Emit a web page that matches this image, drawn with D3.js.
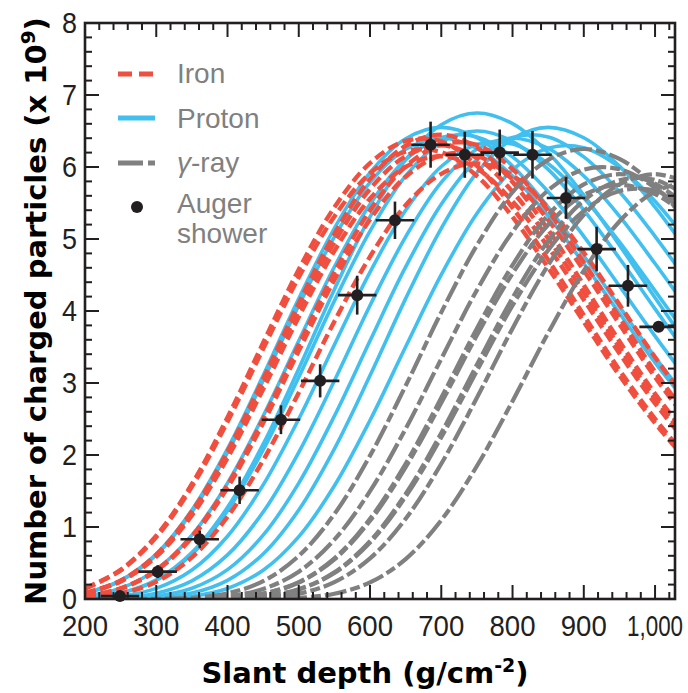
<!DOCTYPE html>
<html lang="en">
  <head>
    <meta charset="utf-8">
    <title>Shower profiles</title>
    <script src="https://d3js.org/d3.v7.min.js"></script>
    <style>
      body { margin: 0; background: #fff; }
      .tick-label { font-family: 'Liberation Sans', Arial, sans-serif; font-size: 30px; fill: #231f20; }
      .axis-title { font-family: 'DejaVu Sans', sans-serif; font-weight: bold; font-size: 29px; fill: #000; }
      .legend-text { font-family: 'Liberation Sans', Arial, sans-serif; font-size: 28px; fill: #808080; }
    </style>
  </head>
  <body>
    <svg id="chart"></svg>
    <script>
    // depth grid shared by all simulated profiles (g/cm2)
    const depthGrid = [200, 250, 300, 350, 400, 450, 500, 550, 600, 650, 700, 750, 800, 850, 900, 950, 1000, 1050]

    // number of charged particles (x 10^9)
    const ironProfiles = [
      [0.148, 0.405, 0.879, 1.597, 2.522, 3.558, 4.576, 5.44, 6.054, 6.362, 6.355, 6.016, 5.434, 4.71, 3.942, 3.181, 2.502, 1.907],
      [0.144, 0.396, 0.859, 1.56, 2.463, 3.475, 4.469, 5.313, 5.913, 6.213, 6.206, 5.875, 5.306, 4.6, 3.85, 3.106, 2.444, 1.863],
      [0.081, 0.255, 0.617, 1.218, 2.054, 3.056, 4.109, 5.07, 5.831, 6.295, 6.45, 6.269, 5.792, 5.128, 4.36, 3.58, 2.851, 2.212],
      [0.079, 0.249, 0.602, 1.189, 2.007, 2.985, 4.013, 4.952, 5.695, 6.149, 6.3, 6.124, 5.657, 5.009, 4.259, 3.497, 2.785, 2.161],
      [0.077, 0.244, 0.588, 1.161, 1.959, 2.914, 3.918, 4.834, 5.56, 6.002, 6.15, 5.978, 5.523, 4.889, 4.157, 3.413, 2.718, 2.109],
      [0.039, 0.147, 0.402, 0.872, 1.585, 2.502, 3.531, 4.54, 5.398, 6.007, 6.312, 6.306, 5.969, 5.391, 4.674, 3.912, 3.156, 2.483],
      [0.038, 0.143, 0.392, 0.852, 1.548, 2.443, 3.447, 4.433, 5.27, 5.865, 6.163, 6.157, 5.828, 5.264, 4.563, 3.819, 3.081, 2.424],
      [0.016, 0.076, 0.24, 0.578, 1.142, 1.927, 2.866, 3.854, 4.755, 5.469, 5.905, 6.05, 5.881, 5.433, 4.81, 4.09, 3.358, 2.674]
    ]

    const protonProfiles = [
      [0.08, 0.253, 0.612, 1.208, 2.038, 3.032, 4.077, 5.03, 5.786, 6.246, 6.4, 6.259, 5.875, 5.318, 4.659, 3.968, 3.283, 2.662],
      [0.082, 0.259, 0.626, 1.237, 2.086, 3.103, 4.172, 5.148, 5.921, 6.393, 6.55, 6.406, 6.013, 5.443, 4.768, 4.061, 3.36, 2.725],
      [0.039, 0.149, 0.408, 0.886, 1.61, 2.541, 3.586, 4.612, 5.483, 6.102, 6.411, 6.418, 6.14, 5.657, 5.037, 4.347, 3.651, 2.986],
      [0.018, 0.084, 0.267, 0.645, 1.274, 2.15, 3.198, 4.3, 5.306, 6.102, 6.588, 6.75, 6.602, 6.197, 5.609, 4.914, 4.185, 3.463],
      [0.018, 0.081, 0.257, 0.621, 1.227, 2.07, 3.08, 4.141, 5.109, 5.876, 6.344, 6.5, 6.357, 5.967, 5.402, 4.732, 4.03, 3.335],
      [0.006, 0.039, 0.147, 0.402, 0.872, 1.585, 2.502, 3.531, 4.54, 5.398, 6.007, 6.312, 6.318, 6.045, 5.569, 4.959, 4.28, 3.594],
      [0.002, 0.017, 0.08, 0.253, 0.612, 1.208, 2.038, 3.032, 4.077, 5.03, 5.786, 6.246, 6.4, 6.259, 5.875, 5.318, 4.659, 3.968],
      [0.001, 0.006, 0.039, 0.149, 0.408, 0.886, 1.61, 2.541, 3.586, 4.612, 5.483, 6.102, 6.411, 6.418, 6.14, 5.657, 5.037, 4.347],
      [0, 0.002, 0.018, 0.082, 0.259, 0.626, 1.237, 2.086, 3.103, 4.172, 5.148, 5.921, 6.393, 6.55, 6.406, 6.013, 5.443, 4.768],
      [0, 0.001, 0.006, 0.038, 0.146, 0.399, 0.866, 1.572, 2.482, 3.503, 4.505, 5.355, 5.96, 6.262, 6.269, 5.998, 5.525, 4.92]
    ]

    const gammaProfiles = [
      [0, 0, 0.002, 0.017, 0.078, 0.248, 0.598, 1.18, 1.991, 2.961, 3.981, 4.913, 5.65, 6.1, 6.25, 6.113, 5.738, 5.194],
      [0, 0, 0, 0.006, 0.037, 0.139, 0.38, 0.824, 1.498, 2.364, 3.336, 4.29, 5.1, 5.676, 5.964, 5.97, 5.712, 5.262],
      [0, 0, 0, 0.002, 0.016, 0.074, 0.234, 0.564, 1.114, 1.879, 2.795, 3.758, 4.637, 5.334, 5.758, 5.9, 5.77, 5.416],
      [0, 0, 0, 0.002, 0.016, 0.072, 0.228, 0.55, 1.086, 1.831, 2.724, 3.663, 4.52, 5.198, 5.612, 5.75, 5.624, 5.279],
      [0, 0, 0, 0, 0.006, 0.036, 0.135, 0.37, 0.804, 1.46, 2.305, 3.253, 4.183, 4.973, 5.534, 5.815, 5.821, 5.569],
      [0, 0, 0, 0, 0.006, 0.035, 0.132, 0.361, 0.783, 1.423, 2.246, 3.169, 4.076, 4.845, 5.392, 5.666, 5.672, 5.426],
      [0, 0, 0, 0, 0.002, 0.016, 0.074, 0.234, 0.564, 1.114, 1.879, 2.795, 3.758, 4.637, 5.334, 5.758, 5.9, 5.77],
      [0, 0, 0, 0, 0, 0.002, 0.016, 0.073, 0.23, 0.554, 1.095, 1.847, 2.748, 3.695, 4.559, 5.243, 5.661, 5.8]
    ]

    // Auger shower measurements
    const augerDepth = [249, 302, 361, 417, 475, 530, 582, 635, 685, 733, 782, 828, 875, 918, 962, 1005]
    const augerN = [0.04, 0.38, 0.83, 1.51, 2.49, 3.03, 4.22, 5.26, 6.31, 6.17, 6.2, 6.17, 5.57, 4.86, 4.35, 3.78]
    const augerErrN = [0.03, 0.09, 0.12, 0.19, 0.2, 0.23, 0.27, 0.26, 0.32, 0.32, 0.32, 0.33, 0.29, 0.31, 0.29, 0.05]
    const augerErrDepth = [27, 27, 27, 27, 27, 27, 27, 27, 27, 27, 27, 27, 27, 27, 27, 27]

    const xTicks = [200, 300, 400, 500, 600, 700, 800, 900, 1000]
    const xTickLabels = ['200', '300', '400', '500', '600', '700', '800', '900', '1,000']
    const yTicks = [0, 1, 2, 3, 4, 5, 6, 7, 8]

    const legendItems = ['Iron', 'Proton', 'γ-ray', 'Auger shower']

    const W = 688, H = 693
    const mLeft = 85, mRight = 675, mTop = 23, mBottom = 599

    const ink = '#231f20'
    const red = '#f04e3e'
    const blue = '#41c0f0'
    const grey = '#808080'

    const svg = d3.select('#chart')
      .attr('width', W)
      .attr('height', H)

    const x = d3.scaleLinear().domain([200, 1028]).range([mLeft, mRight])
    const y = d3.scaleLinear().domain([0, 8]).range([mBottom, mTop])

    svg.append('defs').append('clipPath')
      .attr('id', 'plot-clip')
      .append('rect')
        .attr('x', mLeft)
        .attr('y', mTop)
        .attr('width', mRight - mLeft)
        .attr('height', mBottom - mTop)

    const line = d3.line()
      .x((d, i) => x(depthGrid[i]))
      .y(d => y(d))
      .curve(d3.curveCatmullRom.alpha(0.5))

    const curves = svg.append('g').attr('clip-path', 'url(#plot-clip)')

    // proton first, iron and gamma on top of it
    curves.selectAll('path.proton')
      .data(protonProfiles)
      .join('path')
        .attr('class', 'proton')
        .attr('d', line)
        .attr('fill', 'none')
        .attr('stroke', blue)
        .attr('stroke-width', 3.6)

    curves.selectAll('path.iron')
      .data(ironProfiles)
      .join('path')
        .attr('class', 'iron')
        .attr('d', line)
        .attr('fill', 'none')
        .attr('stroke', red)
        .attr('stroke-width', 4.4)
        .attr('stroke-dasharray', '11,5')

    curves.selectAll('path.gamma')
      .data(gammaProfiles)
      .join('path')
        .attr('class', 'gamma')
        .attr('d', line)
        .attr('fill', 'none')
        .attr('stroke', grey)
        .attr('stroke-width', 4.2)
        .attr('stroke-dasharray', '22,4,10,4')

    // Auger points with error bars
    const pts = svg.append('g')
    augerDepth.forEach((d, i) => {
      const cx = x(d), cy = y(augerN[i])
      pts.append('line')
        .attr('x1', x(d - augerErrDepth[i])).attr('x2', Math.min(mRight, x(d + augerErrDepth[i])))
        .attr('y1', cy).attr('y2', cy)
        .attr('stroke', ink).attr('stroke-width', 2.6)
      pts.append('line')
        .attr('x1', cx).attr('x2', cx)
        .attr('y1', y(augerN[i] - augerErrN[i])).attr('y2', y(augerN[i] + augerErrN[i]))
        .attr('stroke', ink).attr('stroke-width', 2.6)
      pts.append('circle')
        .attr('cx', cx).attr('cy', cy).attr('r', 6)
        .attr('fill', ink)
    })

    // frame and inward ticks on all sides
    const frame = svg.append('g')
    const xMinor = d3.range(200, 1028, 20).filter(v => v % 100 !== 0)
    const yMinor = d3.range(0, 8.01, 0.2).filter(v => Math.abs(v - Math.round(v)) > 0.01)

    function tickSet(values, len, isX) {
      values.forEach(v => {
        if (isX) {
          frame.append('line').attr('x1', x(v)).attr('x2', x(v)).attr('y1', mBottom).attr('y2', mBottom - len)
          frame.append('line').attr('x1', x(v)).attr('x2', x(v)).attr('y1', mTop).attr('y2', mTop + len)
        } else {
          frame.append('line').attr('x1', mLeft).attr('x2', mLeft + len).attr('y1', y(v)).attr('y2', y(v))
          frame.append('line').attr('x1', mRight).attr('x2', mRight - len).attr('y1', y(v)).attr('y2', y(v))
        }
      })
    }
    tickSet(xTicks, 14, true)
    tickSet(xMinor, 7, true)
    tickSet(yTicks, 14, false)
    tickSet(yMinor, 7, false)
    frame.selectAll('line').attr('stroke', ink).attr('stroke-width', 2)

    frame.append('rect')
      .attr('x', mLeft).attr('y', mTop)
      .attr('width', mRight - mLeft).attr('height', mBottom - mTop)
      .attr('fill', 'none').attr('stroke', ink).attr('stroke-width', 2.6)

    // tick labels (condensed look)
    svg.append('g').selectAll('text')
      .data(xTicks)
      .join('text')
        .attr('class', 'tick-label')
        .attr('x', d => x(d))
        .attr('y', 636)
        .attr('text-anchor', 'middle')
        .attr('textLength', (d, i) => xTickLabels[i].length > 3 ? 56 : 46)
        .attr('lengthAdjust', 'spacingAndGlyphs')
        .text((d, i) => xTickLabels[i])

    svg.append('g').selectAll('text')
      .data(yTicks)
      .join('text')
        .attr('class', 'tick-label')
        .attr('x', 77)
        .attr('y', d => y(d))
        .attr('dy', '0.34em')
        .attr('text-anchor', 'end')
        .attr('textLength', 15)
        .attr('lengthAdjust', 'spacingAndGlyphs')
        .text(d => d)

    // axis titles
    const xt = svg.append('text')
      .attr('class', 'axis-title')
      .attr('x', 365)
      .attr('y', 683)
      .attr('text-anchor', 'middle')
    xt.append('tspan').text('Slant depth (g/cm')
    xt.append('tspan').attr('dy', -11).attr('font-size', 19).text('-2')
    xt.append('tspan').attr('dy', 11).text(')')

    const yt = svg.append('text')
      .attr('class', 'axis-title')
      .attr('transform', 'translate(46, 311) rotate(-90)')
      .attr('text-anchor', 'middle')
    yt.append('tspan').text('Number of charged particles (x 10')
    yt.append('tspan').attr('dy', -11).attr('font-size', 20).text('9')
    yt.append('tspan').attr('dy', 11).text(')')

    // legend
    const lg = svg.append('g')
    lg.append('line').attr('x1', 118).attr('x2', 155).attr('y1', 74).attr('y2', 74)
      .attr('stroke', red).attr('stroke-width', 5).attr('stroke-dasharray', '14,7')
    lg.append('line').attr('x1', 118).attr('x2', 155).attr('y1', 118).attr('y2', 118)
      .attr('stroke', blue).attr('stroke-width', 5)
    lg.append('line').attr('x1', 118).attr('x2', 155).attr('y1', 163).attr('y2', 163)
      .attr('stroke', grey).attr('stroke-width', 5).attr('stroke-dasharray', '25,5,7,5')
    lg.append('circle').attr('cx', 137).attr('cy', 207).attr('r', 6).attr('fill', ink)

    lg.append('text').attr('class', 'legend-text').attr('x', 177).attr('y', 83).text(legendItems[0])
    lg.append('text').attr('class', 'legend-text').attr('x', 177).attr('y', 128).text(legendItems[1])
    const gl = lg.append('text').attr('class', 'legend-text').attr('x', 177).attr('y', 172)
    gl.append('tspan').attr('font-style', 'italic').text(legendItems[2].slice(0, 1))
    gl.append('tspan').text(legendItems[2].slice(1))
    const aw = legendItems[3].split(' ')
    lg.append('text').attr('class', 'legend-text').attr('x', 177).attr('y', 213).text(aw[0])
    lg.append('text').attr('class', 'legend-text').attr('x', 177).attr('y', 243).text(aw[1])
    </script>
  </body>
</html>
